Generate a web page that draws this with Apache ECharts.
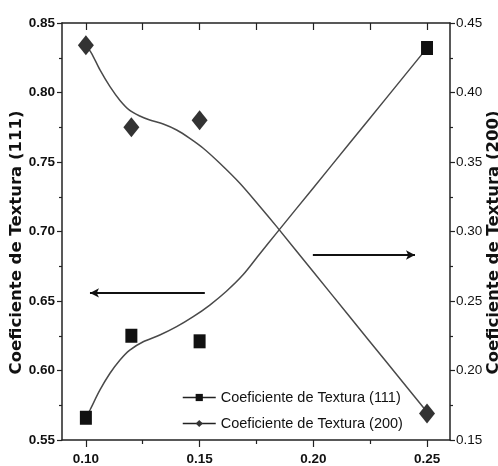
<!DOCTYPE html>
<html>
<head>
<meta charset="utf-8">
<script src="https://cdn.jsdelivr.net/npm/echarts@6/dist/echarts.min.js"></script>
<style>
html,body{margin:0;padding:0;background:#fff;}
#chart{width:498px;height:466px;}
</style>
</head>
<body>
<div id="chart"></div>
<script>
// ---- data ----
const xValues = [0.10, 0.12, 0.15, 0.25];
const tex111 = [0.566, 0.625, 0.621, 0.832];
const tex200 = [0.434, 0.375, 0.380, 0.169];

// smooth fitted curves
const fit111X = [0.1000, 0.1018, 0.1062, 0.1106, 0.1150, 0.1193, 0.1252, 0.1325, 0.1399, 0.1472, 0.1545, 0.1618, 0.1692, 0.1765, 0.1839, 0.1998, 0.2161, 0.2319, 0.2478, 0.2500];
const fit111Y = [0.5658, 0.5716, 0.5860, 0.5980, 0.6076, 0.6147, 0.6207, 0.6255, 0.6315, 0.6387, 0.6471, 0.6570, 0.6690, 0.6840, 0.6990, 0.7310, 0.7638, 0.7956, 0.8276, 0.8320];
const fit200X = [0.1000, 0.1025, 0.1062, 0.1106, 0.1150, 0.1193, 0.1237, 0.1281, 0.1340, 0.1399, 0.1457, 0.1516, 0.1589, 0.1677, 0.1765, 0.1839, 0.1998, 0.2161, 0.2319, 0.2500];
const fit200Y = [0.4342, 0.4282, 0.4162, 0.4042, 0.3943, 0.3871, 0.3831, 0.3802, 0.3773, 0.3730, 0.3670, 0.3599, 0.3491, 0.3347, 0.3180, 0.3035, 0.2714, 0.2385, 0.2066, 0.1701];

// arrows [x0, x1, y]
const arrowLeft = [0.1523, 0.1018, 0.6558];
const arrowRight = [0.1998, 0.2447, 0.2831];

const xMajor = [0.10, 0.15, 0.20, 0.25];
const xMinor = [0.125, 0.175, 0.225];
const seriesNames = ['Coeficiente de Textura (111)', 'Coeficiente de Textura (200)'];

const zip = (a, b) => a.map((v, i) => [v, b[i]]);

const lab = '"Liberation Sans", Arial, sans-serif';
const axisCol = '#222';

const chart = echarts.init(document.getElementById('chart'), null, {renderer: 'canvas'});
const xBase = {type: 'value', min: 0.0895, max: 0.2601, splitLine: {show: false}};
chart.setOption({
  animation: false,
  backgroundColor: '#fff',
  grid: {left: 62, right: 48, top: 23, bottom: 26, containLabel: false, outerBoundsMode: 'none'},
  legend: {
    orient: 'vertical', left: 177, top: 385,
    itemWidth: 33, itemHeight: 9, itemGap: 11,
    data: seriesNames,
    lineStyle: {color: '#222', width: 1.5},
    textStyle: {fontFamily: lab, fontSize: 14.5, color: '#111'}
  },
  xAxis: [
    Object.assign({}, xBase, {
      position: 'bottom',
      axisLine: {show: true, lineStyle: {color: axisCol, width: 1.5}},
      axisTick: {show: true, inside: false, length: 7, customValues: xMajor, lineStyle: {color: axisCol, width: 1.2}},
      axisLabel: {customValues: xMajor, margin: 12, formatter: v => v.toFixed(2),
        fontFamily: lab, fontWeight: 'bold', fontSize: 13.5, color: '#111'}
    }),
    Object.assign({}, xBase, {
      position: 'bottom',
      axisLine: {show: false},
      axisTick: {show: true, inside: false, length: 4, customValues: xMinor, lineStyle: {color: axisCol, width: 1.2}},
      axisLabel: {show: false}
    }),
    Object.assign({}, xBase, {
      position: 'top',
      axisLine: {show: true, lineStyle: {color: axisCol, width: 1.5}},
      axisTick: {show: true, inside: true, length: 7, customValues: xMajor.concat(xMinor), lineStyle: {color: axisCol, width: 1.2}},
      axisLabel: {show: false}
    })
  ],
  yAxis: [
    {
      type: 'value', position: 'left', min: 0.55, max: 0.85, interval: 0.05,
      splitLine: {show: false},
      axisLine: {show: true, lineStyle: {color: axisCol, width: 1.5}},
      axisTick: {show: true, inside: false, length: 5, lineStyle: {color: axisCol, width: 1.2}},
      minorTick: {show: true, splitNumber: 2, length: 3, lineStyle: {color: axisCol, width: 1.2}},
      axisLabel: {margin: 7, formatter: v => v.toFixed(2), fontFamily: lab, fontWeight: 'bold', fontSize: 13.5, color: '#111'},
      name: seriesNames[0], nameLocation: 'middle', nameGap: 37, nameRotate: 90, nameMoveOverlap: false,
      nameTextStyle: {fontFamily: '"DejaVu Sans", sans-serif', fontWeight: 'bold', fontSize: 16.5, color: '#111', padding: [0, 22, 0, 0]}
    },
    {
      type: 'value', position: 'right', min: 0.15, max: 0.45, interval: 0.05,
      splitLine: {show: false},
      axisLine: {show: true, lineStyle: {color: axisCol, width: 1.5}},
      axisTick: {show: true, inside: false, length: 5, lineStyle: {color: axisCol, width: 1.2}},
      minorTick: {show: true, splitNumber: 2, length: 3, lineStyle: {color: axisCol, width: 1.2}},
      axisLabel: {margin: 6, formatter: v => v.toFixed(2), fontFamily: lab, fontSize: 13.5, color: '#111'},
      name: seriesNames[1], nameLocation: 'middle', nameGap: 35, nameRotate: 90, nameMoveOverlap: false,
      nameTextStyle: {fontFamily: '"DejaVu Sans", sans-serif', fontWeight: 'bold', fontSize: 16.5, color: '#111', padding: [0, 22, 0, 0]}
    }
  ],
  series: [
    {
      name: seriesNames[0], type: 'line', xAxisIndex: 0, yAxisIndex: 0,
      data: zip(fit111X, fit111Y), smooth: 0.3, showSymbol: false, symbol: 'rect',
      lineStyle: {color: '#4a4a4a', width: 1.5}, itemStyle: {color: '#111'},
      markLine: {
        silent: true, symbol: ['none', 'arrow'], symbolSize: [7, 9],
        label: {show: false}, lineStyle: {color: '#111', width: 2, type: 'solid'},
        data: [[{coord: [arrowLeft[0], arrowLeft[2]]}, {coord: [arrowLeft[1], arrowLeft[2]]}]]
      }
    },
    {
      name: seriesNames[1], type: 'line', xAxisIndex: 0, yAxisIndex: 1,
      data: zip(fit200X, fit200Y), smooth: 0.3, showSymbol: false, symbol: 'diamond',
      lineStyle: {color: '#4a4a4a', width: 1.5}, itemStyle: {color: '#333'},
      markLine: {
        silent: true, symbol: ['none', 'arrow'], symbolSize: [7, 9],
        label: {show: false}, lineStyle: {color: '#111', width: 2, type: 'solid'},
        data: [[{coord: [arrowRight[0], arrowRight[2]]}, {coord: [arrowRight[1], arrowRight[2]]}]]
      }
    },
    {
      name: 'pts111', type: 'scatter', xAxisIndex: 0, yAxisIndex: 0,
      data: zip(xValues, tex111), symbol: 'rect', symbolSize: [12, 14],
      itemStyle: {color: '#111', opacity: 1}, z: 5
    },
    {
      name: 'pts200', type: 'scatter', xAxisIndex: 0, yAxisIndex: 1,
      data: zip(xValues, tex200), symbol: 'diamond', symbolSize: [16, 20],
      itemStyle: {color: '#333', opacity: 1}, z: 5
    }
  ]
});
</script>
</body>
</html>
